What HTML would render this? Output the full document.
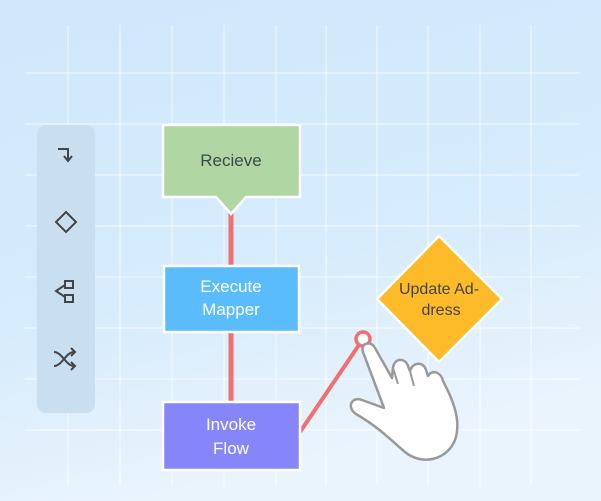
<!DOCTYPE html>
<html><head><style>
html,body{margin:0;padding:0;width:601px;height:501px;overflow:hidden;font-family:"Liberation Sans",sans-serif;}
svg{display:block;}
</style></head><body>
<svg width="601" height="501" xmlns="http://www.w3.org/2000/svg">
<defs>
<linearGradient id="bg" x1="0" y1="0" x2="0.3" y2="1">
<stop offset="0" stop-color="#cfe8fb"/><stop offset="0.6" stop-color="#d6ebfb"/><stop offset="1" stop-color="#eaf4fd"/>
</linearGradient>
</defs>
<rect width="601" height="501" fill="url(#bg)"/>
<g stroke="#ffffff" stroke-opacity="0.5" stroke-width="1.5">
<line x1="68" y1="25" x2="68" y2="485"/><line x1="120" y1="25" x2="120" y2="485"/>
<line x1="172" y1="25" x2="172" y2="485"/><line x1="224" y1="25" x2="224" y2="485"/>
<line x1="276" y1="25" x2="276" y2="485"/><line x1="326" y1="25" x2="326" y2="485"/>
<line x1="377" y1="25" x2="377" y2="485"/><line x1="428" y1="25" x2="428" y2="485"/>
<line x1="480" y1="25" x2="480" y2="485"/><line x1="531" y1="25" x2="531" y2="485"/>
<line x1="25" y1="73" x2="580" y2="73"/><line x1="25" y1="124" x2="580" y2="124"/>
<line x1="25" y1="175" x2="580" y2="175"/><line x1="25" y1="226" x2="580" y2="226"/>
<line x1="25" y1="277" x2="580" y2="277"/><line x1="25" y1="328" x2="580" y2="328"/>
<line x1="25" y1="379" x2="580" y2="379"/><line x1="25" y1="430" x2="580" y2="430"/>
</g>
<rect x="37" y="125" width="58" height="288" rx="9" fill="#c9dff0"/>
<g stroke="#444" stroke-width="2" fill="none">
<path d="M58 149 H68 V160"/><path d="M64 156 L68 161 L72 156"/>
<path d="M66 212 L76 222 L66 232 L56 222 Z"/>
<path d="M65 285 L56 291 L65 297"/><rect x="65" y="281" width="8" height="7"/><rect x="65" y="295" width="8" height="7"/>
<path d="M54 352 C62 352 66 366 74 366 M54 366 C62 366 66 352 74 352"/><path d="M71 348 L75 352 L71 356 M71 362 L75 366 L71 370"/>
</g>
<line x1="231" y1="210" x2="231" y2="410" stroke="#f07070" stroke-width="5"/>
<line x1="300" y1="432" x2="363" y2="339" stroke="#f07070" stroke-width="4"/>
<path d="M163 125 H300 V197 H246 L231 214 L216 197 H163 Z" fill="#afd6a3" stroke="#fff" stroke-width="2.5"/>
<text x="231" y="166" text-anchor="middle" font-size="17" fill="#3d4a4a">Recieve</text>
<rect x="164" y="266" width="135" height="66" fill="#5bbcfc" stroke="#fff" stroke-width="2.5"/>
<text x="231" y="292" text-anchor="middle" font-size="17" fill="#fff">Execute</text>
<text x="231" y="315" text-anchor="middle" font-size="17" fill="#fff">Mapper</text>
<rect x="163" y="402" width="137" height="68" fill="#8686fa" stroke="#fff" stroke-width="2.5"/>
<text x="231" y="430" text-anchor="middle" font-size="17" fill="#fff">Invoke</text>
<text x="231" y="454" text-anchor="middle" font-size="17" fill="#fff">Flow</text>
<path d="M439 236 L502 299 L439 362 L377 299 Z" fill="#fdbb2a" stroke="#fff" stroke-width="2.5"/>
<text x="439" y="294" text-anchor="middle" font-size="16" fill="#444">Update Ad-</text>
<text x="441" y="315" text-anchor="middle" font-size="16" fill="#444">dress</text>
<circle cx="363" cy="339" r="7" fill="#fff" stroke="#f07070" stroke-width="3.5"/>
<path d="M363 352 C360 343 371 340 375 348 L392 378 L393 368 C394 358 405 357 408 366 L410 371 C413 361 424 362 426 370 L428 376 C432 369 441 372 443 381 C452 398 462 420 455 440 C447 460 422 466 405 452 C393 442 380 428 356 414 C346 407 352 396 362 400 L384 408 Z" fill="#fff" stroke="#999" stroke-width="2.5" stroke-linejoin="round"/>
<path d="M393 368 L398 384 M410 371 L414 386" stroke="#999" stroke-width="2" fill="none"/>
</svg>
</body></html>
